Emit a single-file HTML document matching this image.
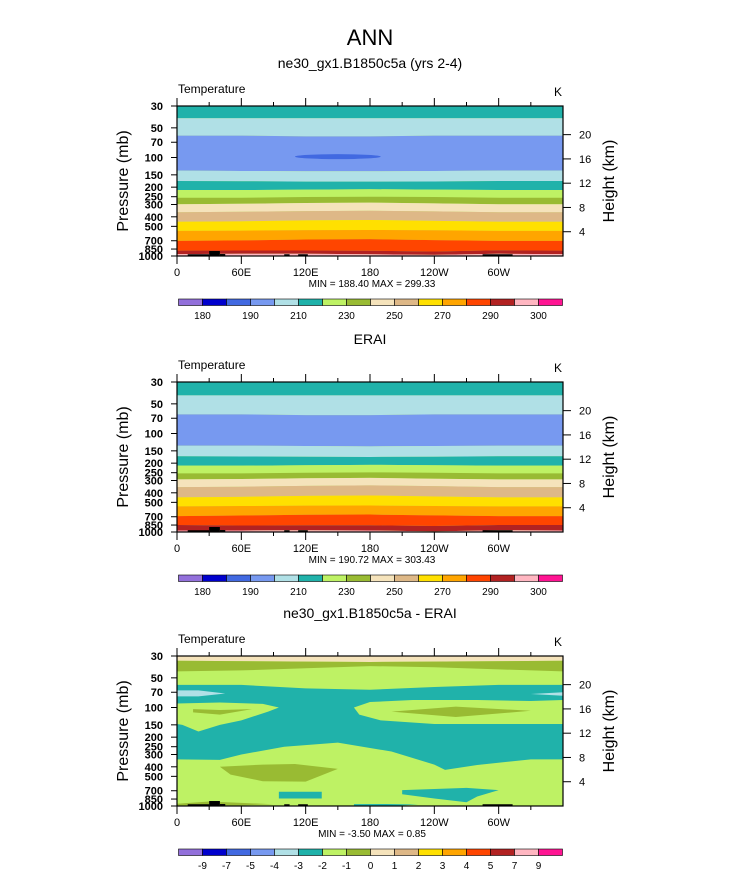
<!DOCTYPE html>
<html><head><meta charset="utf-8"><style>
html,body{margin:0;padding:0;background:#fff;}
svg{display:block;font-family:"Liberation Sans",sans-serif;}
</style></head><body>
<svg id="fig" width="733" height="888" viewBox="0 0 733 888">
<text x="370" y="45" font-size="22" text-anchor="middle">ANN</text>
</svg>
<script>
const NS="http://www.w3.org/2000/svg";
const svg=document.getElementById('fig');
const lonTicks=[0,60,120,180,240,300];
const lonLabels=['0','60E','120E','180','120W','60W'];
const presTicks=[30,50,70,100,150,200,250,300,400,500,700,850,1000];
const heightTicks=[4,8,12,16,20];
const lonSamples=[0,60,120,180,240,300,360];
const colors=['#9370db','#0000cd','#4169e1','#7799f0','#b0e0e6','#20b2aa','#bef264','#99bb33','#f5e3bb','#deb887','#ffe000','#ffa500','#ff4500','#b22222','#ffb6c1','#ff1493'];
const cbLabels1=['','180','','190','','210','','230','','250','','270','','290','','300'];
const cbLabels3=['','-9','-7','-5','-4','-3','-2','-1','0','1','2','3','4','5','7','9'];

// Panel 1 band bottoms (pressure) at lonSamples, with colour index
const p1Colors=[5,4,3,4,5,6,7,8,9,10,11,12,13,14];
const p1Bottoms=[
[40,40,40,40,40,40,40],[60,60,61,61,60,60,60],[136,137,138,138,137,136,136],[173,174,176,176,175,173,173],
[214,214,212,210,212,214,214],[256,256,252,250,252,256,256],[298,295,290,287,292,298,298],
[360,355,350,347,352,360,360],[449,445,435,431,440,449,449],[556,552,546,544,548,556,556],
[703,695,680,675,690,703,703],[883,880,880,885,900,875,883],[956,950,950,960,975,950,956],[1000,1000,1000,1000,1000,1000,1000]];
const p2Colors=[5,4,3,4,5,6,7,8,9,10,11,12,13,14];
const p2Bottoms=[
[41,41,41,41,41,41,41],[64,64,65,65,64,64,64],[133,133,134,135,134,133,133],[170,171,172,173,172,170,170],
[212,212,210,208,210,212,212],[254,254,250,248,250,254,254],[292,290,285,282,288,292,292],
[350,347,340,336,342,350,350],[445,440,430,426,436,445,445],[550,545,540,538,544,550,550],
[690,680,668,665,678,690,690],[850,860,855,855,870,850,850],[965,965,960,965,985,960,965],[1000,1000,1000,1000,1000,1000,1000]];
// Panel 3 region polygons [lon,p]
const p3Regions=[
{c:8,pts:[[0,30],[360,30],[360,33.5],[180,34.5],[0,33.5]]},
{c:7,pts:[[0,33.5],[180,34.5],[360,33.5],[360,43],[300,41],[240,39],[180,38],[120,40],[60,42],[0,43]]},
{c:5,pts:[[0,59],[60,59],[120,64],[180,66],[240,62],[300,59],[360,59],[360,336],[330,336],[280,383],[250,430],[240,380],[200,280],[150,227],[100,250],[60,300],[40,340],[0,336]]},
{c:6,pts:[[0,91],[40,89],[80,92],[95,100],[85,110],[60,135],[40,150],[20,175],[5,150],[0,147]]},
{c:6,pts:[[165,100],[180,88],[220,84],[280,84],[330,86],[360,84],[360,147],[300,147],[240,147],[190,135],[170,118]]},
{c:4,pts:[[0,67],[20,67],[45,72],[20,77],[0,77]]},
{c:4,pts:[[360,70],[330,73],[360,76]]},
{c:7,pts:[[15,104],[40,106],[70,104],[40,118],[15,112]]},
{c:7,pts:[[200,110],[260,98],[330,108],[260,125]]},
{c:7,pts:[[40,400],[80,380],[110,375],[150,420],[120,566],[80,560],[50,480]]},
{c:5,pts:[[95,717],[135,717],[135,839],[95,839]]},
{c:5,pts:[[210,690],[270,655],[300,690],[280,800],[270,916],[240,840],[210,760]]},
{c:5,pts:[[165,957],[195,955],[225,965],[200,1000],[165,1000]]},
{c:7,pts:[[0,950],[30,900],[60,930],[90,960],[60,985],[0,985]]}];
// Topography: [lonStart, lonEnd, topPressure]
const topo=[[10,30,960],[30,40,890],[40,45,955],[100,105,960],[113,122,960],[285,313,960]];

const P0=30,P1=1000,X0=177,X1=563,PH=150;
function el(tag,attrs,parent){const e=document.createElementNS(NS,tag);for(const k in attrs)e.setAttribute(k,attrs[k]);(parent||svg).appendChild(e);return e;}
function xs(lon){return X0+(X1-X0)*lon/360;}
function ysf(top){return p=>top+PH*Math.log10(p/P0)/Math.log10(P1/P0);}
function txt(x,y,s,size,anchor,parent){const t=el('text',{x:x,y:y,'font-size':size,'text-anchor':anchor||'middle'},parent);t.textContent=s;return t;}

function panel(top,title,minmax,cbLabels,key){
  const ys=ysf(top);
  const g=el('g',{});
  
  
  const st=txt(370,top-38,title,14,'middle',g);
  
  
  const tl=txt(178,top-13,'Temperature',12,'start',g);
  
  
  const ul=txt(562,top-10,'K',12,'end',g);
  
  
  const plot=el('g',{},g);
  
  
  el('rect',{x:X0,y:top,width:X1-X0,height:PH,fill:colors[6]},plot);
  return {g,plot,ys,top};
}
function bands(P,cols,bottoms){
  let prevTop=lonSamples.map(()=>P0);
  bottoms.forEach((b,i)=>{
    const pts=lonSamples.map((l,j)=>xs(l)+','+P.ys(prevTop[j]));
    const bp=lonSamples.map((l,j)=>xs(l)+','+P.ys(b[j])).reverse();
    const poly=el('polygon',{points:pts.concat(bp).join(' '),fill:colors[cols[i]]},P.plot);
    
    
    prevTop=b;
  });
}
function regions(P,regs){
  regs.forEach(r=>{
    const poly=el('polygon',{points:r.pts.map(q=>xs(q[0])+','+P.ys(q[1])).join(' '),fill:colors[r.c]},P.plot);
    
    
  });
}
function finish(P,minmax,cbLabels,key){
  const g=P.g,ys=P.ys,top=P.top;
  topo.forEach(t=>{
    const r=el('rect',{x:xs(t[0]),y:ys(t[2]),width:xs(t[1])-xs(t[0]),height:top+PH-ys(t[2]),fill:'#000'},g);
    
    
  });
  el('rect',{x:X0,y:top,width:X1-X0,height:PH,fill:'none',stroke:'#000','stroke-width':1.2},g);
  for(let l=0;l<360;l+=30){
    const major=l%60===0,len=major?8:4;
    el('line',{x1:xs(l),x2:xs(l),y1:top,y2:top-len,stroke:'#000'},g);
    el('line',{x1:xs(l),x2:xs(l),y1:top+PH,y2:top+PH+len,stroke:'#000'},g);
  }
  lonTicks.forEach((l,i)=>{
    const t=txt(xs(l),top+PH+20,lonLabels[i],11,'middle',g);
    
    
  });
  presTicks.forEach(p=>{
    el('line',{x1:X0,x2:X0-6,y1:ys(p),y2:ys(p),stroke:'#000'},g);
    const t=txt(X0-14,ys(p)+4,String(p),11,'end',g);
    t.setAttribute('font-weight','bold');
    
    
  });
  heightTicks.forEach(h=>{
    const y=ys(1000*Math.exp(-h/7.05));
    el('line',{x1:X1,x2:X1+8,y1:y,y2:y,stroke:'#000'},g);
    const t=txt(X1+16,y+4,String(h),11,'start',g);
    
    
  });
  const yt=txt(0,0,'Pressure (mb)',16,'middle',g);
  yt.setAttribute('transform','translate(128,'+(top+75)+') rotate(-90)');
  
  
  const rt=txt(0,0,'Height (km)',16,'middle',g);
  rt.setAttribute('transform','translate(614,'+(top+75)+') rotate(-90)');
  
  
  const mm=txt(372,top+PH+31,minmax,10,'middle',g);
  
  
  const cb=el('g',{},g);
  
  
  const cy=top+PH+43;
  colors.forEach((c,i)=>{
    el('rect',{x:178.5+i*24,y:cy,width:24,height:6.5,fill:c,stroke:'#000','stroke-width':0.6},cb);
  });
  cbLabels.forEach((s,i)=>{
    if(!s)return;
    const t=txt(178.5+i*24,cy+20,s,10,'middle',cb);
    
    
  });
}
let P=panel(106,'ne30_gx1.B1850c5a (yrs 2-4)','',cbLabels1,'model');
bands(P,p1Colors,p1Bottoms);
el('ellipse',{cx:xs(150),cy:P.ys(98),rx:xs(190)-xs(150),ry:2.5,fill:colors[2]},P.plot);
finish(P,'MIN = 188.40  MAX = 299.33',cbLabels1,'model');
P=panel(382,'ERAI','',cbLabels1,'obs');
bands(P,p2Colors,p2Bottoms);
finish(P,'MIN = 190.72  MAX = 303.43',cbLabels1,'obs');
P=panel(656,'ne30_gx1.B1850c5a - ERAI','',cbLabels3,'diff');
regions(P,p3Regions);
finish(P,'MIN =  -3.50  MAX =   0.85',cbLabels3,'diff');
</script>
</body></html>
